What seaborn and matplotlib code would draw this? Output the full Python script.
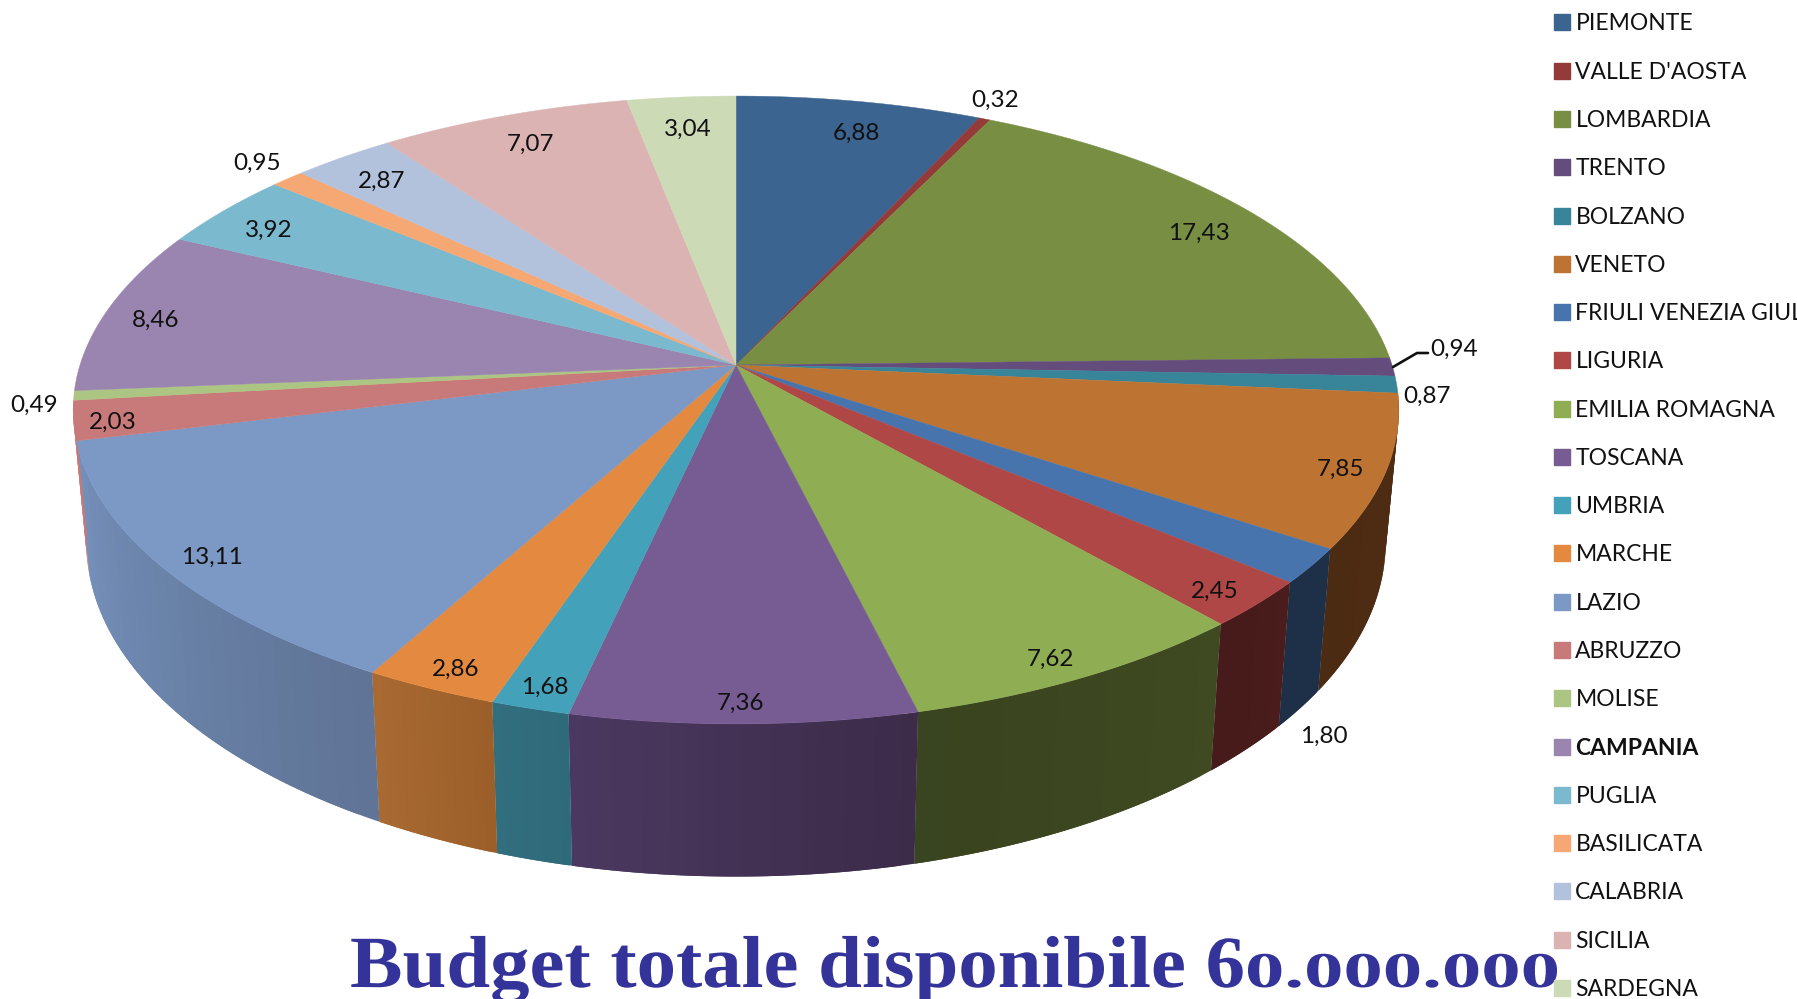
import numpy as np
import seaborn as sns
import matplotlib
matplotlib.use("Agg")
import matplotlib.pyplot as plt
from matplotlib.colors import to_rgb
from matplotlib.font_manager import FontProperties
from matplotlib.lines import Line2D
from matplotlib.patches import Polygon
from matplotlib.path import Path
from matplotlib.patheffects import AbstractPathEffect
from matplotlib.textpath import TextPath

regions = ["PIEMONTE", "VALLE D'AOSTA", "LOMBARDIA", "TRENTO", "BOLZANO", "VENETO",
           "FRIULI VENEZIA GIULIA", "LIGURIA", "EMILIA ROMAGNA", "TOSCANA", "UMBRIA",
           "MARCHE", "LAZIO", "ABRUZZO", "MOLISE", "CAMPANIA", "PUGLIA", "BASILICATA",
           "CALABRIA", "SICILIA", "SARDEGNA"]
shares = [6.88, 0.32, 17.43, 0.94, 0.87, 7.85, 1.80, 2.45, 7.62, 7.36, 1.68,
          2.86, 13.11, 2.03, 0.49, 8.46, 3.92, 0.95, 2.87, 7.07, 3.04]
top_colors = ["#3B6491", "#943B3A", "#788F43", "#644C7C", "#38859A", "#BD7332",
              "#4874AE", "#AF4746", "#8FAD52", "#775B93", "#44A1BA", "#E48A40",
              "#7C98C5", "#C77A79", "#ADC582", "#9985AF", "#7BB9CF", "#F5A873",
              "#B3C2DC", "#DCB3B3", "#CDDAB6"]
# Side wall shading, (first end, last end) in clockwise order, for the slices facing the viewer.
wall_colors = {
    "VENETO": ("#4F2D14", "#4C2B13"),
    "FRIULI VENEZIA GIULIA": ("#1D3048", "#1D3048"),
    "LIGURIA": ("#4A1C1C", "#471B1B"),
    "EMILIA ROMAGNA": ("#3F4A22", "#394420"),
    "TOSCANA": ("#3C2B49", "#4B3860"),
    "UMBRIA": ("#2F6A7A", "#316E7E"),
    "MARCHE": ("#9D5F29", "#A86A32"),
    "LAZIO": ("#5F7496", "#7590BB"),
    "ABRUZZO": ("#C77A79", "#C77A79"),
}
value_labels = ["6,88", "0,32", "17,43", "0,94", "0,87", "7,85", "1,80", "2,45", "7,62",
                "7,36", "1,68", "2,86", "13,11", "2,03", "0,49", "8,46", "3,92", "0,95",
                "2,87", "7,07", "3,04"]
label_x = [856, 995, 1199, 1454, 1427, 1341, 1324, 1215, 1051, 741, 545, 456, 212, 113, 34,
           156, 269, 257, 382, 530, 688]
label_y = [133, 100, 233, 349, 396, 469, 736, 591, 659, 703, 687, 669, 557, 422, 405,
           320, 230, 163, 181, 144, 129]
title = "Budget totale disponibile 60.000.000"

# Canvas and pie projection parameters, in pixels.
W, H = 1797, 999
CX, CY = 736, 365
HALF_W, HALF_H, TILT = 656, 307.5, 0.1433
WALL_X_SCALE, WALL_Y_SCALE, WALL_CY = 0.98, 1.063, 495

sns.set_theme(style="white")
plt.rcParams["font.family"] = ["Lato", "DejaVu Sans"]
palette = sns.color_palette(top_colors)


def top_face(theta):
    """Project a clockwise angle from 12 o'clock onto the tilted pie top."""
    u, v = np.sin(theta), np.cos(theta)
    depth = 1 + TILT * v
    return CX + HALF_W * u / depth, CY - HALF_H * v / depth


def bottom_face(theta):
    x, y = top_face(theta)
    return CX + WALL_X_SCALE * (x - CX), WALL_CY + WALL_Y_SCALE * (y - CY)


class TitleShape(AbstractPathEffect):
    """Widens the string and lowers the glyphs after a given point to x-height."""

    def __init__(self, start_fraction, squash, widen):
        super().__init__()
        self.start_fraction = start_fraction
        self.squash = squash
        self.widen = widen

    def draw_path(self, renderer, gc, tpath, affine, rgbFace=None):
        verts = tpath.vertices.copy()
        limit = verts[:, 0].max() * self.start_fraction
        verts[verts[:, 0] > limit, 1] *= self.squash
        verts[:, 0] *= self.widen
        renderer.draw_path(gc, Path(verts, tpath.codes), affine, rgbFace)


fig = plt.figure(figsize=(W / 100, H / 100), dpi=100, facecolor="white")
ax = fig.add_axes([0, 0, 1, 1])
ax.set_xlim(0, W)
ax.set_ylim(H, 0)
ax.axis("off")

edges = 2 * np.pi * np.concatenate([[0], np.cumsum(shares)]) / np.sum(shares)

# Side walls first; the top face then covers everything behind it.
# Each band runs on under the next one so no seams show between them.
for name, start, stop in zip(regions, edges[:-1], edges[1:]):
    if name not in wall_colors:
        continue
    first_rgb, last_rgb = map(np.array, map(to_rgb, wall_colors[name]))
    bands = np.linspace(start, stop, 25)
    for i, a in enumerate(bands[:-1]):
        arc = np.linspace(a, bands[min(i + 2, 24)], 5)
        pts = np.r_[np.c_[top_face(arc)], np.c_[bottom_face(arc)][::-1]]
        col = first_rgb + (last_rgb - first_rgb) * i / 23
        ax.add_patch(Polygon(pts, closed=True, fc=col, ec="none", zorder=1))

# Top face of the pie.
for color, start, stop in zip(palette, edges[:-1], edges[1:]):
    arc = np.linspace(start, stop, max(8, int((stop - start) * 120)))
    pts = np.r_[[[CX, CY]], np.c_[top_face(arc)]]
    ax.add_patch(Polygon(pts, closed=True, fc=color, ec=color, lw=0.3, zorder=2))

for text, x, y in zip(value_labels, label_x, label_y):
    ax.text(x, y, text, fontsize=17.5, color="#111111", ha="center", va="center", zorder=4)

# Leader line of the narrow TRENTO slice.
ax.plot([1393, 1417, 1428], [367, 353, 353], color="#111111", lw=1.9, zorder=3)

# Region legend on the right, running off the canvas as the long name does.
handles = [Line2D([], [], ls="none", marker="s", ms=12.2, mfc=c, mec=c) for c in palette]
legend = ax.legend(handles, regions, loc="upper left", bbox_to_anchor=(1552 / W, 1 - 13.5 / H),
                   bbox_transform=fig.transFigure, frameon=False, fontsize=16.5,
                   labelspacing=1.19, handlelength=0.9, handletextpad=0.12,
                   borderpad=0, borderaxespad=0, labelcolor="#111111")
legend.get_texts()[regions.index("CAMPANIA")].set_fontweight("bold")

# Title with old-style zeros.
title_font = FontProperties(family="Liberation Serif", weight="bold", size=53)
prefix_end = TextPath((0, 0), title[:title.index("60") + 1], prop=title_font).vertices[:, 0].max()
full_end = TextPath((0, 0), title, prop=title_font).vertices[:, 0].max()
ax.text(350, 987, title, fontproperties=title_font, color="#333399", ha="left",
        va="baseline", zorder=5,
        path_effects=[TitleShape((prefix_end + 1) / full_end, 0.68, 1.07)])

sns.despine(ax=ax, left=True, bottom=True)
fig.savefig("out.png", dpi=100)
